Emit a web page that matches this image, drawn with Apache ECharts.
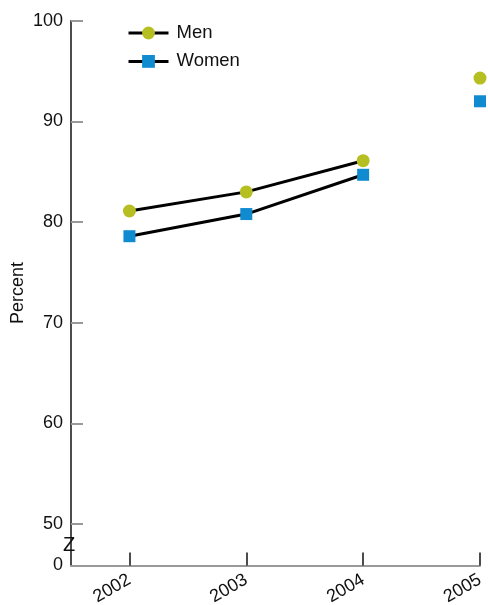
<!DOCTYPE html>
<html>
<head>
<meta charset="utf-8">
<script src="https://cdn.jsdelivr.net/npm/echarts@6/dist/echarts.min.js"></script>
<style>html,body{margin:0;padding:0;background:#fff;}#c{width:488px;height:605px;}</style>
</head>
<body>
<div id="c"></div>
<script>
var years = [2002, 2003, 2004, 2005];
var men = [81.1, 83.0, 86.1, 94.3];
var women = [78.6, 80.8, 84.7, 92.0];
var yTicks = [50, 60, 70, 80, 90, 100];
var yAxisZero = 45.9; // position shown as "0" below the axis break

function pts(vals, from, to) {
  var out = [];
  for (var i = from; i < to; i++) out.push([years[i], vals[i]]);
  return out;
}

var menColor = '#b6bf22';
var womenColor = '#108bd0';
var font = 'Liberation Sans, Arial, Helvetica, sans-serif';

var chart = echarts.init(document.getElementById('c'), null, {renderer: 'canvas'});
chart.setOption({
  backgroundColor: '#fff',
  animation: false,
  grid: {left: 71, right: 8, top: 20.7, bottom: 39.5, containLabel: false, outerBoundsMode: 'none'},
  legend: {
    orient: 'vertical',
    left: 122, top: 17,
    itemWidth: 40, itemHeight: 16, itemGap: 6.4,
    data: ['Men', 'Women'],
    lineStyle: {width: 3},
    textStyle: {fontFamily: font, fontSize: 18.5, color: '#111', lineHeight: 22, padding: [0, 0, 0, 3]}
  },
  xAxis: {
    type: 'value', min: 2001.5, max: 2005,
    axisLine: {show: true, lineStyle: {color: '#999', width: 2}},
    axisTick: {show: true, inside: true, length: 13, lineStyle: {color: '#111', width: 1.5}, customValues: years},
    axisLabel: {customValues: years, rotate: 30, margin: 13, fontFamily: font, fontSize: 18, color: '#111',
      formatter: function (v) { return String(v); }},
    splitLine: {show: false}
  },
  yAxis: {
    type: 'value', min: yAxisZero, max: 100,
    name: 'Percent', nameLocation: 'middle', nameGap: 44, nameRotate: 90, nameMoveOverlap: false,
    nameTextStyle: {fontFamily: font, fontSize: 18, color: '#111'},
    axisLine: {show: true, onZero: false, lineStyle: {color: '#111', width: 1.5}},
    axisTick: {show: true, inside: true, length: 12, lineStyle: {color: '#999', width: 2}, customValues: yTicks},
    axisLabel: {customValues: [yAxisZero].concat(yTicks), margin: 8, fontFamily: font, fontSize: 18, color: '#111',
      formatter: function (v) { return Math.abs(v - yAxisZero) < 0.01 ? '0' : String(Math.round(v)); }},
    splitLine: {show: false}
  },
  graphic: [{
    type: 'text', left: 63, top: 535, z: 100,
    style: {text: 'Z', fontFamily: font, fontSize: 20, fill: '#111'}
  }],
  series: [
    {name: 'Men', type: 'line', data: pts(men, 0, 3), symbol: 'circle', symbolSize: 13, clip: false,
      itemStyle: {color: menColor}, lineStyle: {color: '#000', width: 3}, z: 3},
    {name: 'Women', type: 'line', data: pts(women, 0, 3), symbol: 'rect', symbolSize: 12, clip: false,
      itemStyle: {color: womenColor}, lineStyle: {color: '#000', width: 3}, z: 3},
    {name: 'Men', type: 'scatter', data: pts(men, 3, 4), symbol: 'circle', symbolSize: 13, clip: false,
      itemStyle: {color: menColor, opacity: 1}, z: 4},
    {name: 'Women', type: 'scatter', data: pts(women, 3, 4), symbol: 'rect', symbolSize: 12, clip: false,
      itemStyle: {color: womenColor, opacity: 1}, z: 4}
  ]
});
</script>
</body>
</html>
